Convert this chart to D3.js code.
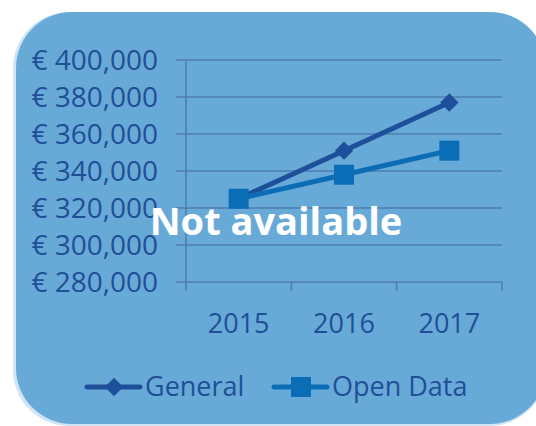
<!doctype html>
<html lang="en">
<head>
  <meta charset="utf-8">
  <script src="https://cdn.jsdelivr.net/npm/d3@7"></script>
  <style>
    body { margin: 0; background: #fff; }
    text { font-family: "Open Sans", sans-serif; }
  </style>
</head>
<body>
  <div id="chart"></div>
  <script>
  // data
  var years = ["2015", "2016", "2017"];
  var general = [325000, 351000, 377000];
  var openData = [325000, 338000, 351000];
  var yTicks = [280000, 300000, 320000, 340000, 360000, 380000, 400000];
  var seriesNames = ["General", "Open Data"];

  var width = 536, height = 426;
  var textColor = "#1f4f96";
  var gridColor = "#4f7db0";

  var svg = d3.select("#chart")
      .append("svg")
      .attr("width", width)
      .attr("height", height);

  // background panel (light edge on the left, main fill on top)
  svg.append("rect")
     .attr("x", 13).attr("y", 12)
     .attr("width", 533).attr("height", 414)
     .attr("rx", 56).attr("ry", 56)
     .attr("fill", "#cfe5f6");
  svg.append("rect")
     .attr("x", 16).attr("y", 12)
     .attr("width", 530).attr("height", 412)
     .attr("rx", 56).attr("ry", 56)
     .attr("fill", "#68aad7");

  var x = d3.scaleBand()
            .domain(years)
            .range([186, 502]);

  var y = d3.scaleLinear()
            .domain([280000, 400000])
            .range([282, 60]);

  var fmt = function (d) { return "\u20ac " + d3.format(",")(d); };

  // gridlines
  svg.append("g")
     .selectAll("line")
     .data(yTicks)
     .enter()
     .append("line")
     .attr("x1", 176).attr("x2", 502)
     .attr("y1", function (d) { return y(d); })
     .attr("y2", function (d) { return y(d); })
     .attr("stroke", gridColor)
     .attr("stroke-width", 1.5);

  // y axis line
  svg.append("line")
     .attr("x1", 186).attr("x2", 186)
     .attr("y1", y(400000)).attr("y2", y(280000))
     .attr("stroke", gridColor)
     .attr("stroke-width", 1.5);

  // category tick marks
  var bounds = years.map(function (d) { return x(d); }).concat([x.range()[1]]);
  svg.append("g")
     .selectAll("line")
     .data(bounds)
     .enter()
     .append("line")
     .attr("x1", function (d) { return d; })
     .attr("x2", function (d) { return d; })
     .attr("y1", y(280000)).attr("y2", y(280000) + 9)
     .attr("stroke", gridColor)
     .attr("stroke-width", 1.5);

  // y labels
  svg.append("g")
     .selectAll("text")
     .data(yTicks)
     .enter()
     .append("text")
     .attr("x", 158)
     .attr("y", function (d) { return y(d); })
     .attr("dy", "0.36em")
     .attr("text-anchor", "end")
     .attr("font-size", 28)
     .attr("fill", textColor)
     .text(fmt);

  // x labels
  svg.append("g")
     .selectAll("text")
     .data(years)
     .enter()
     .append("text")
     .attr("x", function (d) { return x(d) + x.bandwidth() / 2; })
     .attr("y", 333)
     .attr("text-anchor", "middle")
     .attr("font-size", 27)
     .attr("fill", textColor)
     .text(function (d) { return d; });

  var cx = function (d, i) { return x(years[i]) + x.bandwidth() / 2; };
  var line = d3.line()
               .x(cx)
               .y(function (d) { return y(d); });

  var genColor = "#1e4f9b";
  var openColor = "#0b6db6";

  // General
  svg.append("path")
     .datum(general)
     .attr("d", line)
     .attr("fill", "none")
     .attr("stroke", genColor)
     .attr("stroke-width", 5);
  svg.append("g")
     .selectAll("path")
     .data(general)
     .enter()
     .append("path")
     .attr("d", d3.symbol().type(d3.symbolSquare).size(170))
     .attr("transform", function (d, i) { return "translate(" + cx(d, i) + "," + y(d) + ") rotate(45)"; })
     .attr("fill", genColor);

  // Open Data
  svg.append("path")
     .datum(openData)
     .attr("d", line)
     .attr("fill", "none")
     .attr("stroke", openColor)
     .attr("stroke-width", 5);
  svg.append("g")
     .selectAll("rect")
     .data(openData)
     .enter()
     .append("rect")
     .attr("x", function (d, i) { return cx(d, i) - 10; })
     .attr("y", function (d) { return y(d) - 10; })
     .attr("width", 20).attr("height", 20)
     .attr("fill", openColor);

  // overlay message
  svg.append("text")
     .attr("x", 276)
     .attr("y", 235)
     .attr("text-anchor", "middle")
     .attr("font-size", 38)
     .attr("font-weight", "bold")
     .attr("fill", "#fff")
     .text("Not available");

  // legend
  var legend = svg.append("g");
  var ly = 387;
  var items = [
    {name: seriesNames[0], color: genColor, x: 87, type: "diamond"},
    {name: seriesNames[1], color: openColor, x: 274, type: "square"}
  ];
  items.forEach(function (it) {
    legend.append("line")
          .attr("x1", it.x).attr("x2", it.x + 53)
          .attr("y1", ly).attr("y2", ly)
          .attr("stroke", it.color)
          .attr("stroke-width", 5)
          .attr("stroke-linecap", "round");
    if (it.type === "diamond") {
      legend.append("path")
            .attr("d", d3.symbol().type(d3.symbolSquare).size(170))
            .attr("transform", "translate(" + (it.x + 27) + "," + ly + ") rotate(45)")
            .attr("fill", it.color);
    } else {
      legend.append("rect")
            .attr("x", it.x + 17).attr("y", ly - 10)
            .attr("width", 20).attr("height", 20)
            .attr("fill", it.color);
    }
    legend.append("text")
          .attr("x", it.x + 58)
          .attr("y", ly + 9)
          .attr("font-size", 27)
          .attr("fill", textColor)
          .text(it.name);
  });
  </script>
</body>
</html>
